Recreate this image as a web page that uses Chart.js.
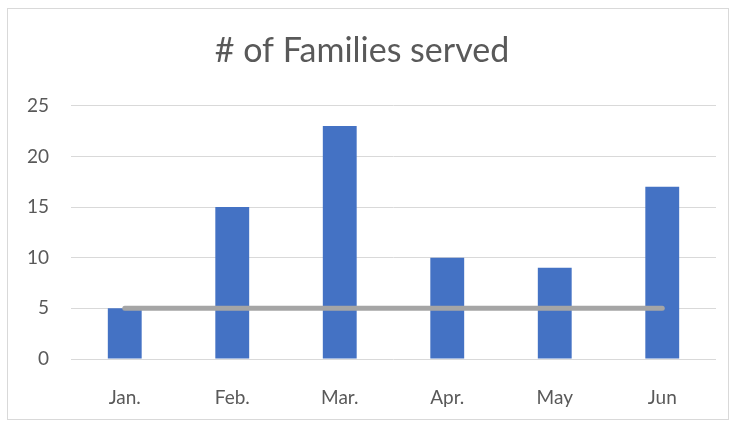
<!DOCTYPE html>
<html>
<head>
<meta charset="utf-8">
<script src="https://cdn.jsdelivr.net/npm/chart.js@4"></script>
<style>
  html, body { margin: 0; padding: 0; background: #fff; }
  .chart-card {
    position: absolute; left: 7px; top: 8px;
    width: 720px; height: 410px;
    border: 1px solid #d9d9d9;
  }
</style>
</head>
<body>
<div class="chart-card"><canvas id="chart"></canvas></div>
<script>
const months = ['Jan.', 'Feb.', 'Mar.', 'Apr.', 'May', 'Jun'];
const familiesServed = [5, 15, 23, 10, 9, 17];
const targetLine = [5, 5, 5, 5, 5, 5];

const textColor = '#595959';
const fontFamily = 'Lato, "Open Sans", sans-serif';

new Chart(document.getElementById('chart'), {
  data: {
    labels: months,
    datasets: [
      {
        type: 'line',
        label: 'Target',
        data: targetLine,
        borderColor: '#A5A5A5',
        borderWidth: 5,
        borderCapStyle: 'round',
        pointRadius: 0,
        order: 0,
      },
      {
        type: 'bar',
        label: '# of Families served',
        data: familiesServed,
        backgroundColor: '#4472C4',
        categoryPercentage: 1,
        barPercentage: 0.315,
        order: 1,
      },
    ],
  },
  options: {
    responsive: true,
    maintainAspectRatio: false,
    animation: false,
    layout: { padding: { left: 0, right: 12, top: 0, bottom: 0 } },
    plugins: {
      legend: { display: false },
      tooltip: { enabled: false },
      title: {
        display: true,
        text: '# of Families served',
        color: textColor,
        font: { family: fontFamily, size: 34, weight: 'normal' },
        padding: { top: 22, bottom: 34 },
      },
    },
    scales: {
      x: {
        offset: true,
        grid: { display: false },
        border: { display: false },
        ticks: {
          color: textColor,
          padding: 19,
          font: { family: fontFamily, size: 19 },
        },
        afterFit: function (scale) { scale.height = 60; },
      },
      y: {
        min: 0,
        max: 25,
        ticks: {
          stepSize: 5,
          color: textColor,
          padding: 22,
          font: { family: fontFamily, size: 19 },
        },
        grid: { color: '#d9d9d9', lineWidth: 1, drawTicks: false },
        border: { display: false },
        afterFit: function (scale) { scale.width = 63; },
      },
    },
  },
});
</script>
</body>
</html>
